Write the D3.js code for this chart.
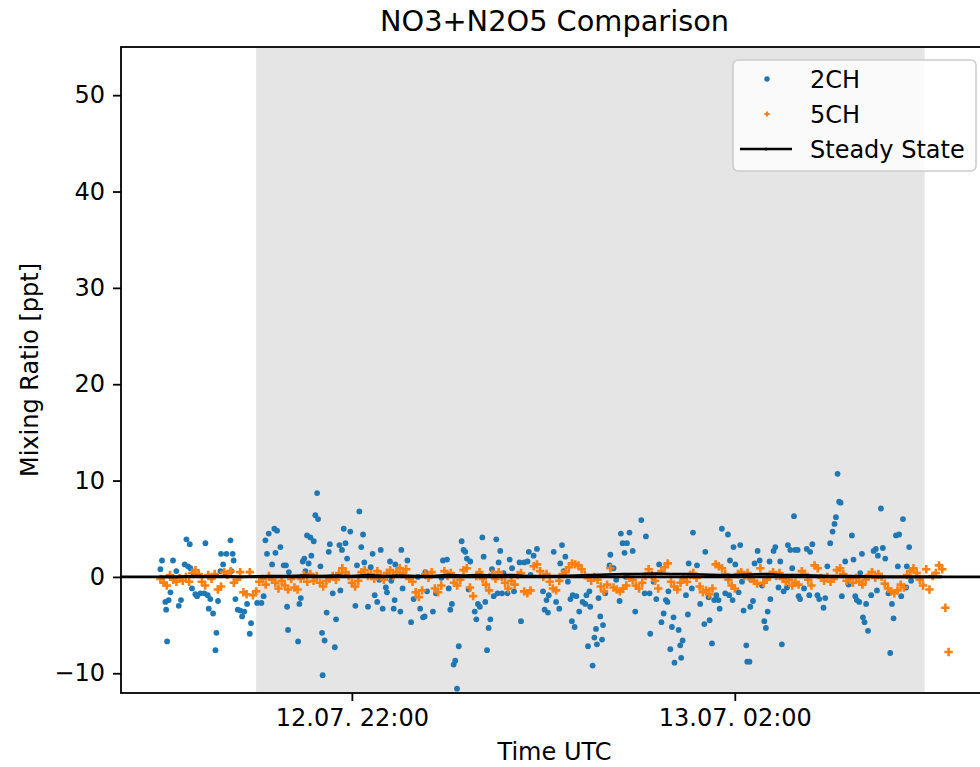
<!DOCTYPE html>
<html><head><meta charset="utf-8">
<script src="https://cdn.jsdelivr.net/npm/d3@7"></script>
<style>body{margin:0;background:#fff}svg{display:block;font-family:"DejaVu Sans",sans-serif}</style>
</head><body><svg id="chart" width="980" height="767"></svg>
<script>
// ---- data (times in minutes after 12.07. 20:00 UTC) ----
const startUTC = Date.UTC(2023, 6, 12, 20, 0);
const blueT = [0,1,3.1,3.6,4.2,5.2,6.3,7.9,10,11.5,12.9,15.2,16.3,17.3,18.4,18.8,19.8,21.9,23,25.1,27.5,28.2,29.7,30.3,31.3,33,34.5,35.1,36.1,37.6,38,39.3,41.4,43.9,44.5,45.3,45.9,47,48.5,50.1,51.2,52.6,54.3,56,56.8,60.6,63.3,64.7,65.8,66.8,67.9,70,71.4,72.1,73.1,75.2,77.3,
78.7,79.4,80,80.5,86.3,87.1,88,89.2,90.2,90.9,91.9,92.9,94,94.6,96.1,97.1,98.2,98.8,100.3,101.3,101.7,102.9,104.2,105.5,106.2,108,109.3,110.1,112.2,112.8,113.8,114.9,116,117,119,122.2,123.2,124.7,125.9,127,127.8,130.1,131.8,133,134.3,135.9,137.2,138.1,139.3,141.3,142,143.9,144.7,146.2,146.8,147.2,150.4,151,151.8,154.8,157.1,158.7,161.4,
162.8,164.6,165.6,166,167.1,170.8,172.7,176.1,177.1,179.6,180.7,181.7,182.7,183.8,184.8,185.9,187,188.8,190,191.1,192.1,193.2,194.2,197,198,199,200.2,201.8,202.6,203.6,204.7,205.7,206.8,207.8,208.9,210.5,211.3,212,213,214.1,215.1,217.6,218.9,220.4,221.6,225.1,226,228,230.1,230.9,232,233.9,236,239.8,240.8,242,242.9,243.4,246.5,
248,250,250.6,251.7,252.7,253.8,255.4,257,257.9,258.4,259.6,260.7,262.5,264.6,266.3,267,268,268.9,269.4,270.9,272,273,273.6,274.6,275.7,276.8,277.4,278.8,281.5,282,284,285.7,287.8,288.6,289.7,290.9,291.8,292.4,294,296,297.6,301.4,303.5,304.3,306.6,307,309.1,310.8,312.6,314,315.4,316.8,317.8,318.4,319.6,320.6,321.6,322.2,324.8,325.8,326.4,327.3,329.4,330.6,331.1,
333.1,333.8,336.3,338.3,340.9,341.5,343.6,344.2,345.7,347.1,348.4,349.8,350.5,351.9,354,355.7,356.5,357,358.6,359.2,360.3,362.4,363.4,364.5,365.5,367.2,367.8,369.2,369.7,370.3,371.4,372.4,374.3,375.6,377.1,378.5,379.5,380.6,381.8,382.3,384.3,385.4,387.4,388.5,389.5,390.6,392.7,393.3,394.8,396,397.1,397.9,399.4,400,400.9,403.4,405.1,406.7,407.2,408.6,411.8,412.9,415.6,
416.7,418,419.8,421.3,422.5,423.4,424.4,425.4,426.3,427.1,429.2,431.3,433.4,434.4,435.5,436.5,438,438.6,439.7,440.3,441.3,442.3,443.5,445.5,447,448.4,449.1,449.7,451.6,452.8,454.3,456.3,457.4,458.5,459.5,461,462.2,463,464.3,465.4,467.4,467.8,469.3,470.5];
const blueV = [0.8,1.7,-2.6,-3.4,-6.7,-2.4,-1.6,1.7,0.6,-3.0,-2.4,1.3,3.9,1.1,3.4,0.9,-1.2,-1.8,-2.0,-1.7,-1.7,3.5,-1.9,-3.3,-2.3,-3.8,-7.6,-5.8,-2.5,0.6,2.4,1.3,2.4,3.8,0.6,2.4,1.7,-2.3,-3.4,-3.5,-4.1,-3.6,-2.8,-5.9,-4.8,-2.7,-2.7,-2.0,3.8,2.4,4.5,1.3,5.0,2.5,4.8,3.1,1.2,
1.2,-3.1,-5.5,0.5,-6.7,-2.8,-2.2,1.6,1.9,0.6,4.3,1.4,4.1,2.2,3.7,6.4,8.7,6.0,1.1,-5.8,-10.2,-6.6,-3.7,2.6,3.4,-1.7,-7.3,-4.4,3.3,-1.4,2.8,5.0,3.5,1.9,4.7,-3.0,1.2,6.8,3.1,4.4,1.5,-3.1,1.0,2.4,-1.9,-2.6,-0.3,2.8,-3.3,-1.1,-1.6,1.6,-0.4,-3.3,-2.4,1.3,-3.6,2.8,-1.2,1.7,-4.7,-2.3,0.0,
-3.3,-4.2,-4.1,0.5,-1.5,-3.6,-1.7,-0.1,1.7,1.8,-1.2,-3.4,-2.8,-9.1,-8.7,-11.6,-7.2,3.7,2.8,2.6,1.9,-1.3,1.6,-3.6,-4.4,-2.8,-3.1,4.1,2.1,-2.6,-7.6,-5.3,-4.4,0.8,-2.0,3.9,-1.7,1.5,2.7,-1.7,0.4,-1.7,1.8,0.9,-1.5,1.5,-4.6,1.5,1.6,2.6,0.2,2.2,2.9,-1.5,-3.4,-2.4,-3.7,-1.9,2.6,
-2.6,-3.3,1.4,3.3,0.6,2.1,-0.5,-2.3,-4.6,-1.9,-5.2,-2.0,-3.6,-2.6,-2.8,-1.9,-7.2,-1.5,-3.1,-9.2,-6.3,-5.4,-7.0,-2.2,-4.1,-6.5,-5.0,-1.7,1.2,2.3,0.9,-0.3,-2.5,4.5,3.5,2.5,0.0,3.5,4.6,2.7,-3.6,5.9,-1.7,4.2,-1.7,-5.9,-0.5,-2.3,1.3,-4.7,-3.8,-2.4,-2.6,-1.5,-7.5,-5.2,-4.2,-8.9,-5.5,-7.1,-8.4,-6.6,-1.9,-3.9,1.4,
-1.2,4.6,1.2,-2.8,-4.9,2.6,-2.1,-4.5,-6.9,-2.4,-1.9,-2.4,-3.3,5.0,-1.7,4.4,-1.9,1.7,-2.4,3.1,1.3,-1.6,3.3,-0.5,-3.5,-7.1,-8.8,-8.8,-3.1,-0.3,-2.5,1.4,2.7,1.7,-0.9,-4.6,-5.3,-3.6,1.6,-2.3,2.7,3.1,-1.1,1.6,-7.0,-1.5,-1.1,3.3,2.8,0.9,6.3,2.8,2.8,-2.0,-2.3,-1.2,2.9,-1.9,2.6,3.4,-1.9,-2.3,-3.2,
-2.2,1.1,3.5,4.7,5.5,6.2,10.7,7.8,7.7,-2.0,1.6,-0.8,4.3,1.8,-2.0,-2.4,-2.6,0.4,2.4,-4.2,-4.7,-2.8,-5.6,-1.9,2.7,2.9,-1.4,2.2,7.1,3.0,1.9,-1.7,-7.9,-2.8,-4.3,4.3,1.1,4.4,-2.0,6.0,-1.1,1.1,3.1,-0.4];
const orangeStepMin = 2;   // 5CH sampled every 2 min starting 20:00
const orangeV = [
-0.2,-0.6,-0.9,0.2,-0.3,-0.5,-0.1,-0.4,0.0,-0.5,
0.4,0.7,0.3,-0.5,-0.9,0.2,-0.2,0.3,-1.3,-1.0,
0.5,0.2,0.6,-0.6,-0.3,0.5,-1.6,-1.8,0.5,-1.9,
-1.5,-0.5,-0.2,-0.8,0.1,-0.3,-0.6,-1.2,-0.4,-0.9,
-1.3,-0.2,-1.1,-1.3,-0.2,0.2,-0.5,0.3,-0.4,0.1,
-0.6,-1.0,-0.4,-0.2,0.1,-0.3,0.4,0.9,0.5,0.1,
-0.6,-1.0,-0.4,0.5,0.7,0.1,0.3,-0.2,0.6,0.2,
-0.3,0.4,0.7,0.1,0.5,0.9,0.4,0.8,-0.2,-0.5,
-1.6,-2.1,-1.4,0.3,-0.1,0.5,-1.2,-1.6,-0.9,0.6,
0.1,0.4,-0.6,-0.9,-0.3,0.7,0.9,-1.1,-2.0,0.1,
0.5,-0.2,-0.8,-1.4,0.3,-0.2,0.5,0.0,-0.6,-1.2,
-0.4,-0.8,0.2,0.4,-1.5,-1.7,-1.4,1.1,1.3,0.6,
0.0,0.3,-0.5,-1.2,-1.4,-0.4,0.3,0.5,1.0,1.4,
1.3,1.2,0.8,0.2,-0.1,-0.4,0.0,-0.3,-1.0,-1.5,
-0.8,0.9,-1.1,-1.3,-1.5,-1.2,-0.9,-0.1,-0.3,-0.9,
-1.2,-0.6,0.1,0.8,0.2,-0.4,-1.2,0.6,1.0,1.4,
-0.5,-1.0,-1.3,-0.6,-0.2,-0.5,0.2,0.4,-0.1,-1.0,
-1.6,-1.4,-1.8,-1.2,1.3,1.1,0.9,0.3,-0.3,-0.9,
-1.2,0.3,0.5,0.1,0.4,-0.2,-0.4,-0.7,0.9,-0.6,
-0.3,0.2,0.5,0.1,0.4,-0.2,-0.5,-0.3,-0.9,-0.6,
-0.8,0.6,0.3,-0.3,-0.9,1.2,0.9,-0.1,-0.4,0.0,
-0.5,-0.2,0.7,0.9,0.3,-0.4,-0.2,-0.6,-0.1,-0.5,
-0.8,-0.3,0.2,0.5,-0.1,0.3,0.0,-0.7,-1.2,-1.5,
-1.7,-1.4,-0.8,-1.1,0.2,0.6,0.9,0.4,-0.3,-0.9,
0.8,-1.3,0.1,0.4,1.2,0.8,-3.2,-7.8];
const steadyStepMin = 10;
const steadyV = [0.0,0.0,0.1,0.05,0.1,0.0,0.05,0.1,0.1,0.15,0.1,0.15,0.1,0.2,0.1,0.15,0.1,0.1,0.2,0.15,0.2,0.15,0.2,0.1,0.1,0.1,0.15,0.2,0.25,0.3,0.3,0.35,0.3,0.3,0.25,0.2,0.2,0.25,0.3,0.2,0.2,0.15,0.1,0.1,0.05,0.0,0.0,0.0,0.0,0.0];
const yTicks = [-10, 0, 10, 20, 30, 40, 50];
const xTicks = ["2023-07-12T22:00:00Z", "2023-07-13T02:00:00Z"];
const nightSpan = ["2023-07-12T21:00:00Z", "2023-07-13T03:59:00Z"];
const legendLabels = ["2CH", "5CH", "Steady State"];
const title = "NO3+N2O5 Comparison", xLabel = "Time UTC", yLabel = "Mixing Ratio [ppt]";

// ---- drawing ----
const M = 60000;
const at = m => new Date(startUTC + m * M);
const L = 121, R = 988, T = 47, B = 693;
const svg = d3.select("#chart");
const x = d3.scaleUtc().domain([at(-24.7), at(518.7)]).range([L, R]);
const y = d3.scaleLinear().domain([-12.05, 55]).range([B, T]);
const blue = "#1f77b4", orange = "#ff7f0e";

svg.append("defs").append("clipPath").attr("id", "clip")
  .append("rect").attr("x", L).attr("y", T).attr("width", R - L).attr("height", B - T);
const g = svg.append("g").attr("clip-path", "url(#clip)");

g.append("rect").attr("x", x(new Date(nightSpan[0]))).attr("y", T)
  .attr("width", x(new Date(nightSpan[1])) - x(new Date(nightSpan[0]))).attr("height", B - T)
  .attr("fill", "#e5e5e5");

g.selectAll("circle.b").data(blueT.map((t, i) => [t, blueV[i]])).join("circle")
  .attr("class", "b").attr("cx", d => x(at(d[0]))).attr("cy", d => y(d[1])).attr("r", 2.9).attr("fill", blue);

const plus = "M-4.2,0H4.2M0,-4.2V4.2";
g.selectAll("path.o").data(orangeV.map((v, i) => [i * orangeStepMin, v])).join("path")
  .attr("class", "o").attr("d", plus)
  .attr("transform", d => `translate(${x(at(d[0]))},${y(d[1])})`)
  .attr("stroke", orange).attr("stroke-width", 2.6).attr("fill", "none");

g.append("path").datum(steadyV.map((v, i) => [i * steadyStepMin, v]))
  .attr("d", d3.line().x(d => x(at(d[0]))).y(d => y(d[1])))
  .attr("fill", "none").attr("stroke", "#000").attr("stroke-width", 2.6);
g.append("line").attr("x1", L).attr("x2", R).attr("y1", y(0)).attr("y2", y(0))
  .attr("stroke", "#000").attr("stroke-width", 2.6);

// spines
svg.append("rect").attr("x", L).attr("y", T).attr("width", R - L).attr("height", B - T)
  .attr("fill", "none").attr("stroke", "#000").attr("stroke-width", 1.8);

const fmtY = d => d < 0 ? "\u2212" + Math.abs(d) : String(d);
const ya = svg.append("g").attr("transform", `translate(${L},0)`)
  .call(d3.axisLeft(y).tickValues(yTicks).tickSize(8).tickPadding(8).tickFormat(fmtY));
const xa = svg.append("g").attr("transform", `translate(0,${B})`)
  .call(d3.axisBottom(x).tickValues(xTicks.map(s => new Date(s))).tickSize(8).tickPadding(8)
    .tickFormat(d3.utcFormat("%d.%m. %H:%M")));
[ya, xa].forEach(a => {
  a.select(".domain").remove();
  a.selectAll(".tick line").attr("stroke", "#000").attr("stroke-width", 1.8);
  a.selectAll(".tick text").attr("fill", "#000").style("font-size", "24px").style("font-family", "DejaVu Sans");
});

svg.append("text").attr("x", (L + R) / 2).attr("y", 31).attr("text-anchor", "middle")
  .style("font-size", "28.8px").text(title);
svg.append("text").attr("x", (L + R) / 2).attr("y", 760).attr("text-anchor", "middle")
  .style("font-size", "24px").text(xLabel);
svg.append("text").attr("transform", `translate(38,${(T + B) / 2}) rotate(-90)`).attr("text-anchor", "middle")
  .style("font-size", "24px").text(yLabel);

// legend
const lg = svg.append("g");
lg.append("rect").attr("x", 733).attr("y", 60).attr("width", 243).attr("height", 111).attr("rx", 5)
  .attr("fill", "#fff").attr("fill-opacity", 0.8).attr("stroke", "#cccccc").attr("stroke-width", 1.6);
const rows = [79, 114, 149];
lg.append("circle").attr("cx", 767).attr("cy", rows[0]).attr("r", 2.7).attr("fill", blue);
lg.append("path").attr("d", "M-2.6,0H2.6M0,-2.6V2.6").attr("transform", `translate(767,${rows[1]})`)
  .attr("stroke", orange).attr("stroke-width", 2).attr("fill", "none");
lg.append("line").attr("x1", 740).attr("x2", 792).attr("y1", rows[2]).attr("y2", rows[2])
  .attr("stroke", "#000").attr("stroke-width", 2.6);
lg.append("circle").attr("cx", 766).attr("cy", rows[2]).attr("r", 1.6).attr("fill", "#000");
legendLabels.forEach((s, i) => lg.append("text").attr("x", 810).attr("y", rows[i] + 8.5)
  .style("font-size", "24px").text(s));
</script></body></html>
